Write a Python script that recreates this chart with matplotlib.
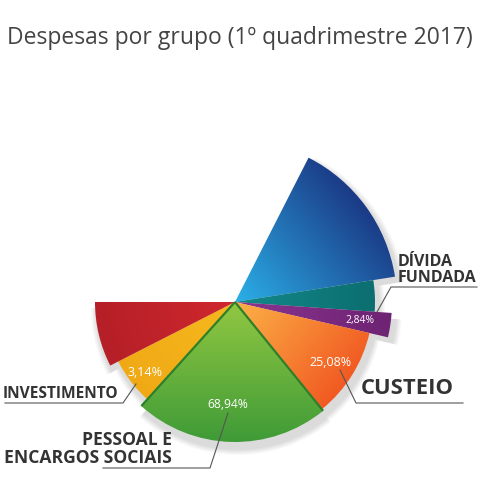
import numpy as np
import matplotlib
matplotlib.use("Agg")
import matplotlib.pyplot as plt
from matplotlib.patches import Wedge
from matplotlib.colors import to_rgb

# slices, clockwise from the top edge of the blue slice
names = ["azul", "DÍVIDA FUNDADA", "divida", "CUSTEIO", "PESSOAL E\nENCARGOS SOCIAIS", "INVESTIMENTO", "vermelho"]
spans = [54, 13, 9, 38, 81, 21, 27]          # degrees
radii = [162, 140, 157, 138, 140, 131, 140]
pct = ["", "", "2,84%", "25,08%", "68,94%", "3,14%", ""]
start = 63

# colour of each slice: (inner colour, outer colour, direction of gradient in degrees)
grad = [("#2bb0e8", "#1b3a86", 40),
        ("#138a8a", "#0c6e70", 0),
        ("#8a3590", "#6e2373", -8),
        ("#fcb247", "#f15a22", -40),
        ("#92c842", "#3f9b37", -90),
        ("#f6b91e", "#f0a915", -140),
        ("#d0282e", "#b51f27", -165)]

fig = plt.figure(figsize=(4.8, 4.8), dpi=100)
W = H = 480.0


def px(x, y):
    return x / W, 1 - y / H


cx, cy, R = 235, 302, 170
ax = fig.add_axes([(cx - R) / W, (H - cy - R) / H, 2 * R / W, 2 * R / H])
ax.set_xlim(-R, R)
ax.set_ylim(-R, R)
ax.set_axis_off()

hi = start - np.concatenate([[0], np.cumsum(spans)[:-1]])
lo = hi - np.array(spans)

# soft shadow under the pie
for k in range(6):
    for a0, a1, r in zip(lo, hi, radii):
        ax.add_patch(Wedge((3, -6), r + 2 + k, a0, a1, facecolor="black", edgecolor="none",
                           alpha=0.025, zorder=1))

xs = np.linspace(-R, R, 300)
X, Y = np.meshgrid(xs, xs)
for a0, a1, r, (c0, c1, ang) in zip(lo, hi, radii, grad):
    w = Wedge((0, 0), r, a0, a1, facecolor="none", edgecolor="none", zorder=2)
    ax.add_patch(w)
    a = np.radians(ang)
    t = np.clip((X * np.cos(a) + Y * np.sin(a)) / r, 0, 1)[..., None]
    img = np.array(to_rgb(c0)) * (1 - t) + np.array(to_rgb(c1)) * t
    im = ax.imshow(img, extent=(-R, R, -R, R), origin="lower", interpolation="bilinear", zorder=2)
    im.set_clip_path(w)
ax.set_xlim(-R, R)
ax.set_ylim(-R, R)

# darker rim on the sides of the green slice
g = 4
for th in (lo[g], hi[g]):
    t = np.radians(th)
    ax.plot([0, radii[g] * np.cos(t)], [0, radii[g] * np.sin(t)], color="#2f7f2a", lw=1.6,
            solid_capstyle="butt", zorder=3)

# percentage labels
pct_pos = {2: (360, 320), 3: (330, 362), 4: (228, 404), 5: (145, 372)}
pct_size = {2: 7.5, 3: 9, 4: 8.7, 5: 9}
for i, (x, y) in pct_pos.items():
    fig.text(*px(x, y), pct[i], color="white", fontsize=pct_size[i], ha="center", va="center",
             family="Open Sans")

dark = "#333333"
line = "#555555"


def seg(pts):
    xx = [p[0] / W for p in pts]
    yy = [1 - p[1] / H for p in pts]
    fig.add_artist(plt.Line2D(xx, yy, color=line, lw=0.8))


fig.text(*px(398, 270), names[1].replace(" ", "\n"), fontsize=11.5, fontweight="bold", color=dark,
         ha="left", va="center", family="Open Sans", linespacing=0.95)
seg([(377, 312), (391, 287), (477, 287)])

fig.text(*px(361, 389), names[3], fontsize=15.8, fontweight="bold", color=dark,
         ha="left", va="center", family="Open Sans")
seg([(340, 370), (356, 403), (463, 403)])

fig.text(*px(3, 394), names[5], fontsize=11.2, fontweight="bold", color=dark,
         ha="left", va="center", family="Open Sans")
seg([(5, 403), (123, 403), (136, 384)])

fig.text(*px(172, 449), names[4], fontsize=12.6, fontweight="bold", color=dark,
         ha="right", va="center", family="Open Sans", multialignment="right", linespacing=1.0)
seg([(103, 468), (210, 468), (228, 413)])

fig.text(*px(240, 38), "Despesas por grupo (1º quadrimestre 2017)", fontsize=16.5, color="#444444",
         ha="center", va="center", family="Open Sans")

fig.savefig("out.png", dpi=100)
